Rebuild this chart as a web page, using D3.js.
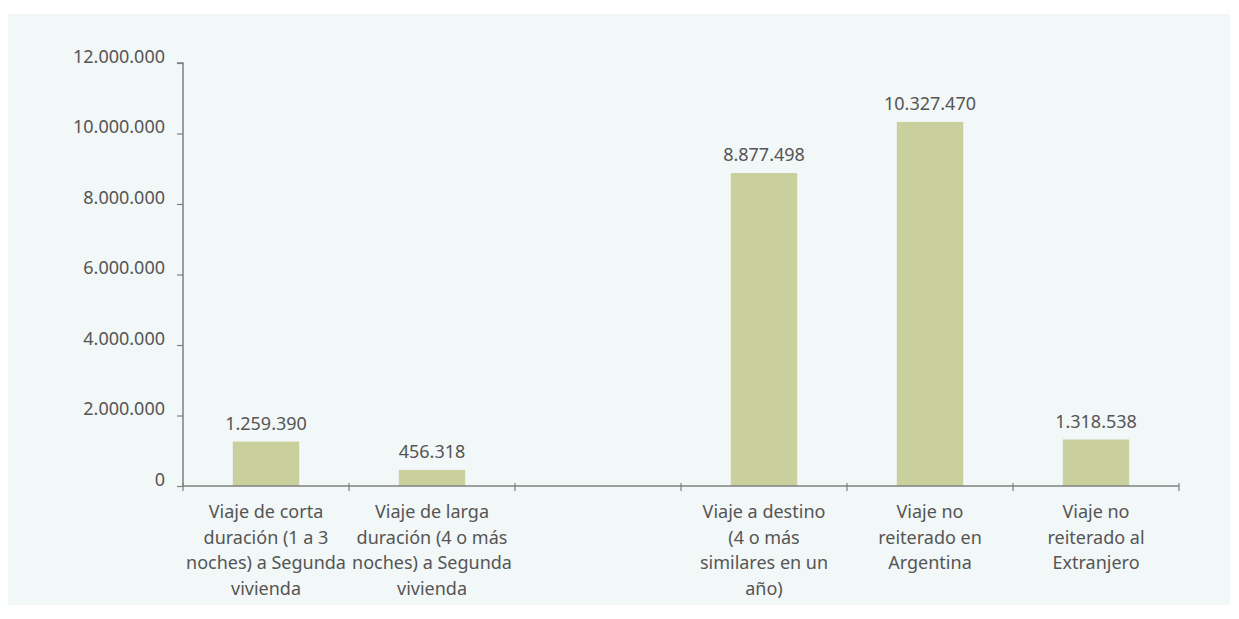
<!DOCTYPE html>
<html lang="es">
<head>
  <meta charset="UTF-8">
  <title>Viajes por tipo</title>
  <script src="https://d3js.org/d3.v7.min.js"></script>
  <style>
    body { margin: 0; background: #fff; }
    text { font-family: "Noto Sans", "Open Sans", sans-serif; fill: #555; }
  </style>
</head>
<body>
<script>
// categories (line breaks as in the original), empty third slot kept on purpose
var categories = [
  "Viaje de corta\nduración (1 a 3\nnoches) a Segunda\nvivienda",
  "Viaje de larga\nduración (4 o más\nnoches) a Segunda\nvivienda",
  "",
  "Viaje a destino\n(4 o más\nsimilares en un\naño)",
  "Viaje no\nreiterado en\nArgentina",
  "Viaje no\nreiterado al\nExtranjero"
];
var values = [1259390, 456318, null, 8877498, 10327470, 1318538];
var yTicks = [0, 2000000, 4000000, 6000000, 8000000, 10000000, 12000000];

var W = 1239, H = 619;
var mLeft = 183, mRight = 1179, mTop = 63, mBottom = 486;

var es = d3.formatLocale({decimal: ",", thousands: ".", grouping: [3], currency: ["$", ""]});
var fmt = es.format(",d");

var svg = d3.select("body").append("svg").attr("width", W).attr("height", H);

svg.append("rect").attr("x", 8).attr("y", 14).attr("width", 1222).attr("height", 591)
  .attr("fill", "#f2f7f8");

var x = d3.scaleBand().domain(d3.range(categories.length)).range([mLeft, mRight]).paddingInner(0).paddingOuter(0);
var y = d3.scaleLinear().domain([0, 12000000]).range([mBottom, mTop]);

var barW = x.bandwidth() * 0.4;
var barData = values.map(function(v, i) { return {v: v, i: i}; }).filter(function(d) { return d.v != null; });

// bars
svg.selectAll("rect.bar").data(barData)
  .enter().append("rect").attr("class", "bar")
  .attr("x", function(d) { return x(d.i) + (x.bandwidth() - barW) / 2; })
  .attr("y", function(d) { return y(d.v); })
  .attr("width", barW)
  .attr("height", function(d) { return mBottom - y(d.v); })
  .attr("fill", "#c9d09e");

// value labels
svg.selectAll("text.val").data(barData)
  .enter().append("text").attr("class", "val")
  .attr("x", function(d) { return x(d.i) + x.bandwidth() / 2; })
  .attr("y", function(d) { return y(d.v) - 12; })
  .attr("text-anchor", "middle")
  .attr("font-size", 18)
  .text(function(d) { return fmt(d.v); });

// y axis
var yAxis = d3.axisLeft(y).tickValues(yTicks).tickSize(6).tickPadding(12).tickFormat(fmt);
var gy = svg.append("g").attr("transform", "translate(" + mLeft + ",0)").call(yAxis);
gy.select(".domain").attr("stroke", "#7f8080").attr("stroke-width", 1.5).attr("d", "M-6," + mTop + "H0V" + mBottom);
gy.selectAll(".tick line").attr("stroke", "#7f8080").attr("stroke-width", 1.2);
gy.selectAll(".tick text").attr("font-size", 18).attr("font-family", null).attr("fill", "#555").attr("dy", "-0.05em");

// x axis line and boundary ticks
svg.append("line").attr("x1", mLeft).attr("x2", mRight).attr("y1", mBottom).attr("y2", mBottom)
  .attr("stroke", "#7f8080").attr("stroke-width", 1.5);
var bounds = d3.range(categories.length + 1).map(function(i) { return mLeft + i * x.bandwidth(); });
svg.selectAll("line.xt").data(bounds).enter().append("line").attr("class", "xt")
  .attr("x1", function(d) { return d; }).attr("x2", function(d) { return d; })
  .attr("y1", mBottom - 3).attr("y2", mBottom + 5)
  .attr("stroke", "#7f8080").attr("stroke-width", 1.2);

// category labels
var cl = svg.selectAll("text.cat").data(categories).enter().append("text").attr("class", "cat")
  .attr("text-anchor", "middle").attr("font-size", 18)
  .attr("x", function(d, i) { return x(i) + x.bandwidth() / 2; })
  .attr("y", 518);
cl.selectAll("tspan").data(function(d) { return d ? d.split("\n") : []; }).enter().append("tspan")
  .attr("x", function() { return d3.select(this.parentNode).attr("x"); })
  .attr("dy", function(d, j) { return j ? 25.5 : 0; })
  .text(function(d) { return d; });
</script>
</body>
</html>
